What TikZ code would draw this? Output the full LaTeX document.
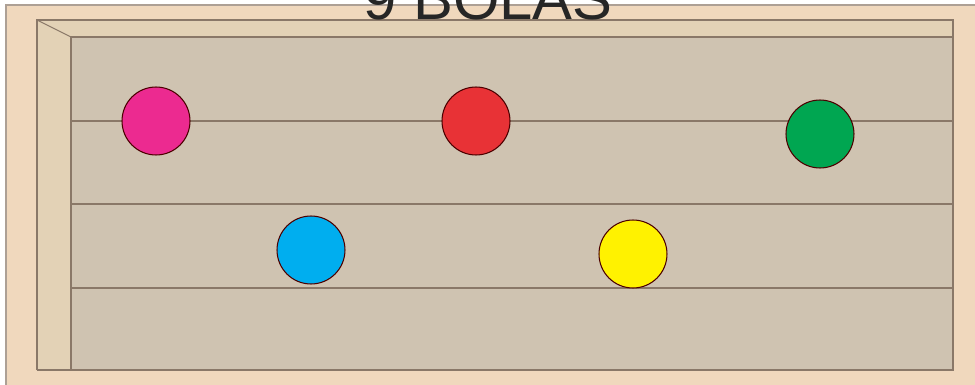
\documentclass[tikz,border=0pt]{standalone}
\usepackage{fontspec}
\setmainfont{Liberation Sans}
\usepackage{xcolor}
\usepackage{tikz}
\definecolor{marco}{HTML}{F0D8BD}
\definecolor{borde}{HTML}{E3D2B6}
\definecolor{fondo}{HTML}{CFC3B1}
\definecolor{linea}{HTML}{8A7868}
\definecolor{rosa}{HTML}{EC2A90}
\definecolor{rojo}{HTML}{E83236}
\definecolor{verde}{HTML}{00A651}
\definecolor{azul}{HTML}{00AEEF}
\definecolor{amarillo}{HTML}{FFF200}

\begin{document}
\begin{tikzpicture}[x=0.02cm, y=-0.02cm,
  bola/.style={circle, draw=black!70!red, line width=0.6pt, minimum size=1.36cm, inner sep=0pt}]
\useasboundingbox (0,0) rectangle (975,385);
\clip (0,0) rectangle (975,385);
\fill[white] (0,0) rectangle (975,385);
\draw[fill=marco, draw=linea!70, line width=0.8pt] (6,5) rectangle (985,395);
% caja
\fill[borde] (37,20) rectangle (953,370);
\draw[fill=fondo, draw=linea, line width=0.8pt] (71,37) rectangle (953,370);
\draw[linea, line width=0.8pt] (37,370) -- (37,20) -- (953,20) -- (953,37);
\draw[linea, line width=0.6pt] (37,20) -- (71,37);
\draw[linea, line width=0.8pt] (37,370) -- (71,370);
\foreach \y in {121,204,288} {
  \draw[linea, line width=0.6pt] (71,\y) -- (953,\y);
}
\node[anchor=base, font=\fontsize{34}{34}\selectfont, text=black!85] (titulo) at (488,20) {9 BOLAS};
\node[bola, fill=rosa] (b1) at (156,121) {};
\node[bola, fill=rojo] (b2) at (476,121) {};
\node[bola, fill=verde] (b3) at (820,134) {};
\node[bola, fill=azul] (b4) at (311,250) {};
\node[bola, fill=amarillo] (b5) at (633,254) {};
\end{tikzpicture}
\end{document}
